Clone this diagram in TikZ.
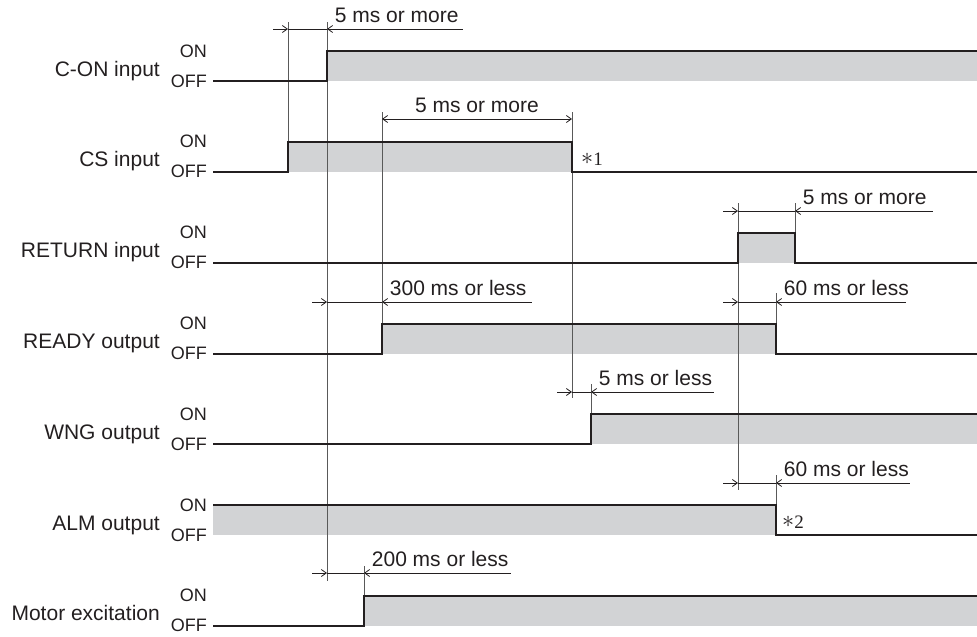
\documentclass[tikz,border=0pt]{standalone}
\usepackage{fontspec}
\setsansfont{Liberation Sans}
\newfontfamily\notefont{Liberation Serif}
\usetikzlibrary{arrows.meta}
\definecolor{hifill}{RGB}{210,211,213}
\definecolor{inkc}{RGB}{35,31,32}

% leader on the left, arrow at #2, span to #3, arrow at #3 with leader to #4
\newcommand{\gapdim}[6]{%
  \draw[dimline, ->] (#2-15,#1) -- (#2,#1);
  \draw[dimline] (#2,#1) -- (#3,#1);
  \draw[dimline, <-] (#3,#1) -- (#4,#1)
    node[pos=0, anchor=base west, dimtext, xshift=7.5pt, yshift=7pt] (#6) {#5};
}
\newcommand{\notemark}[1]{\raisebox{0.5pt}{\scalebox{1.4}{$\ast$}}#1}

\begin{document}
\begin{tikzpicture}[x=1pt, y=-1pt, >={Straight Barb[length=5pt,width=7pt]},
  sig/.style={inkc, line width=1.4pt},
  guide/.style={black!65, line width=0.9pt},
  dimline/.style={inkc, line width=0.8pt},
  lbl/.style={font=\sffamily\fontsize{21}{21}\selectfont, inner sep=0pt, text=inkc},
  onoff/.style={font=\sffamily\fontsize{18}{18}\selectfont, inner sep=0pt, text=inkc},
  dimtext/.style={font=\sffamily\fontsize{21}{21}\selectfont, inner sep=0pt, text=inkc},
  note/.style={font=\notefont\fontsize{19}{19}\selectfont, inner sep=0pt, text=inkc}]
\useasboundingbox (0,0) rectangle (977,637);

% row names and levels
\foreach \name [count=\i from 0] in {C-ON input, CS input, RETURN input, READY output, WNG output, ALM output, Motor excitation} {
  \pgfmathsetmacro\yon{51+90.8*\i}
  \node[lbl, anchor=base east] (name\i) at (160,\yon+25) {\name};
  \node[onoff, anchor=base east] (on\i) at (207,\yon+6) {ON};
  \node[onoff, anchor=base east] (off\i) at (207,\yon+36) {OFF};
}

% grey ON bands
\fill[hifill] (327,51) rectangle (977,81);
\fill[hifill] (288,142) rectangle (572,172);
\fill[hifill] (738,233) rectangle (795,263);
\fill[hifill] (382,324) rectangle (776,354);
\fill[hifill] (591,414) rectangle (977,444);
\fill[hifill] (213,505) rectangle (776,535);
\fill[hifill] (364,596) rectangle (977,626);

% guide lines
\draw[guide] (288,22) -- (288,172);
\draw[guide] (327,22) -- (327,581);
\draw[guide] (382,112) -- (382,324);
\draw[guide] (572,112) -- (572,398);
\draw[guide] (591,384) -- (591,414);
\draw[guide] (738,203) -- (738,490);
\draw[guide] (795,203) -- (795,233);
\draw[guide] (776,293) -- (776,324);
\draw[guide] (776,475) -- (776,505);
\draw[guide] (364,566) -- (364,596);

% waveforms
\draw[sig] (213,81) -| (327,51) -- (977,51);
\draw[sig] (213,172) -| (288,142) -| (572,172) -- (977,172);
\draw[sig] (213,263) -| (738,233) -| (795,263) -- (977,263);
\draw[sig] (213,354) -| (382,324) -| (776,354) -- (977,354);
\draw[sig] (213,444) -| (591,414) -- (977,414);
\draw[sig] (213,505) -| (776,535) -- (977,535);
\draw[sig] (213,626) -| (364,596) -- (977,596);

% timings
\gapdim{29}{288}{327}{463}{5 ms or more}{t1}
\draw[dimline, <->] (382,119) -- (572,119)
  node[midway, anchor=base, dimtext, yshift=7pt] (t2) {5 ms or more};
\gapdim{211}{738}{795}{933}{5 ms or more}{t3}
\gapdim{302}{327}{382}{532}{300 ms or less}{t4}
\gapdim{302}{738}{776}{906}{60 ms or less}{t5}
\gapdim{392}{572}{591}{714}{5 ms or less}{t6}
\gapdim{483}{738}{776}{910}{60 ms or less}{t7}
\gapdim{573}{327}{364}{511}{200 ms or less}{t8}

% footnote marks
\node[note, anchor=base west] (n1) at (581,165) {\notemark{1}};
\node[note, anchor=base west] (n2) at (782,528) {\notemark{2}};
\end{tikzpicture}
\end{document}
